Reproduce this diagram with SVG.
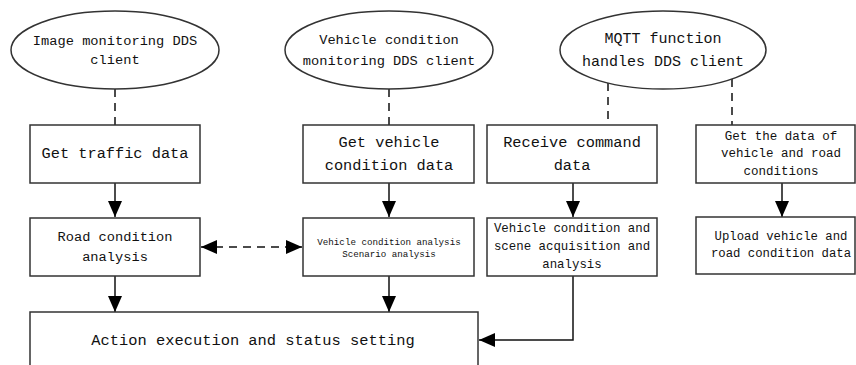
<svg xmlns="http://www.w3.org/2000/svg" width="856" height="365" viewBox="0 0 856 365">
<style>
.n{fill:#fff;stroke:#333;stroke-width:1.5}
.t{font-family:"Liberation Mono","Noto Sans CJK SC",monospace;fill:#111;text-anchor:middle;dominant-baseline:central}
.c{fill:none;stroke:#111;stroke-width:1.5}
.d{stroke-dasharray:8 6}
</style>
<defs>
<marker id="ah" markerUnits="userSpaceOnUse" markerWidth="16" markerHeight="14" refX="16" refY="7" orient="auto-start-reverse">
<path d="M0,0 L16,7 L0,14 Z" fill="#000"/>
</marker>
</defs>
<rect width="856" height="365" fill="#fff"/>
<g id="connectors">
<line class="c d" x1="115" y1="89" x2="115" y2="125"/>
<line class="c d" x1="389" y1="89" x2="389" y2="125"/>
<line class="c d" x1="608" y1="83" x2="608" y2="125"/>
<line class="c d" x1="732" y1="79" x2="732" y2="125"/>
<line class="c" x1="115" y1="183" x2="115" y2="217" marker-end="url(#ah)"/>
<line class="c" x1="389" y1="183" x2="389" y2="217" marker-end="url(#ah)"/>
<line class="c" x1="573" y1="183" x2="573" y2="217" marker-end="url(#ah)"/>
<line class="c" x1="782" y1="183" x2="782" y2="217" marker-end="url(#ah)"/>
<line class="c" x1="115" y1="276" x2="115" y2="312" marker-end="url(#ah)"/>
<line class="c" x1="389" y1="276" x2="389" y2="312" marker-end="url(#ah)"/>
<line class="c d" x1="201" y1="247" x2="302" y2="247" marker-start="url(#ah)" marker-end="url(#ah)"/>
<polyline class="c" points="573,276 573,340 479,340" marker-end="url(#ah)"/>
</g>
<g id="e1"><ellipse class="n" cx="115" cy="50" rx="104" ry="39"/>
<text class="t" x="115" y="41" font-size="13.7">Image monitoring DDS</text>
<text class="t" x="115" y="60" font-size="13.7">client</text></g>
<g id="e2"><ellipse class="n" cx="389" cy="50" rx="104" ry="39"/>
<text class="t" x="389" y="40" font-size="13.7">Vehicle condition</text>
<text class="t" x="389" y="61" font-size="13.7">monitoring DDS client</text></g>
<g id="e3"><ellipse class="n" cx="663" cy="50" rx="103" ry="39"/>
<text class="t" x="663" y="39" font-size="15">MQTT function</text>
<text class="t" x="663" y="62" font-size="15">handles DDS client</text></g>
<g id="b1"><rect class="n" x="30" y="125" width="170" height="58"/>
<text class="t" x="115" y="154" font-size="15.3">Get traffic data</text></g>
<g id="b2"><rect class="n" x="303" y="125" width="171" height="58"/>
<text class="t" x="389" y="143" font-size="15.3">Get vehicle</text>
<text class="t" x="389" y="166" font-size="15.3">condition data</text></g>
<g id="b3"><rect class="n" x="487" y="125" width="170" height="58"/>
<text class="t" x="572" y="143" font-size="15.3">Receive command</text>
<text class="t" x="572" y="166" font-size="15.3">data</text></g>
<g id="b4"><rect class="n" x="696" y="125" width="159" height="58"/>
<text class="t" x="781" y="137" font-size="12.5">Get the data of</text>
<text class="t" x="781" y="154" font-size="12.5">vehicle and road</text>
<text class="t" x="781" y="172" font-size="12.5">conditions</text></g>
<g id="b5"><rect class="n" x="30" y="218" width="170" height="58"/>
<text class="t" x="115" y="237" font-size="13.7">Road condition</text>
<text class="t" x="115" y="257" font-size="13.7">analysis</text></g>
<g id="b6"><rect class="n" x="303" y="218" width="171" height="58"/>
<text class="t" x="389" y="242" font-size="9.2">Vehicle condition analysis</text>
<text class="t" x="389" y="254" font-size="9.2">Scenario analysis</text></g>
<g id="b7"><rect class="n" x="487" y="218" width="170" height="58"/>
<text class="t" x="572" y="229" font-size="12.4">Vehicle condition and</text>
<text class="t" x="572" y="247" font-size="12.4">scene acquisition and</text>
<text class="t" x="572" y="265" font-size="12.4">analysis</text></g>
<g id="b8"><rect class="n" x="696" y="217" width="159" height="57"/>
<text class="t" x="781" y="237" font-size="12.3">Upload vehicle and</text>
<text class="t" x="781" y="254" font-size="12.3">road condition data</text></g>
<g id="b9"><rect class="n" x="30" y="312" width="448" height="70"/>
<text class="t" x="253" y="341" font-size="15.4">Action execution and status setting</text></g>
</svg>
